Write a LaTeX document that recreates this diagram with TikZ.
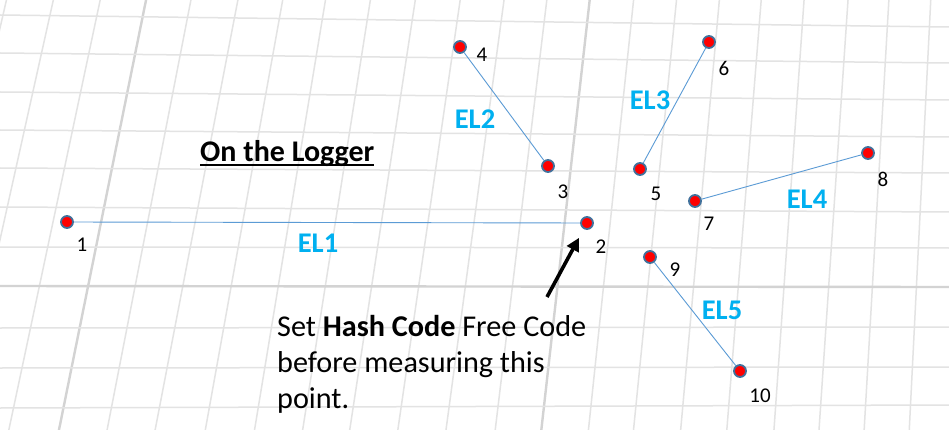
\documentclass[tikz,border=0pt]{standalone}
\usepackage{fontspec}
\setmainfont{Carlito}
\usetikzlibrary{arrows.meta,calc}
\definecolor{gridminor}{HTML}{E3E3E3}
\definecolor{gridmajor}{HTML}{D3D3D3}
\definecolor{elblue}{HTML}{00B0F0}
\definecolor{linkblue}{HTML}{5B9BD5}
\definecolor{dotborder}{HTML}{41719C}
\begin{document}
\begin{tikzpicture}[x=1pt,y=-1pt,
  minorline/.style={gridminor,line width=1.5pt},
  majorline/.style={gridmajor,line width=2.4pt},
  dot/.style={circle,fill=red,draw=dotborder,line width=1.8pt,minimum size=12pt,inner sep=0pt},
  num/.style={inner sep=0pt,font=\fontsize{21}{25}\selectfont},
  ellabel/.style={inner sep=0pt,text=elblue,font=\fontsize{28.5}{32}\selectfont\bfseries},
  link/.style={linkblue,line width=0.9pt},
  pointer/.style={black,line width=3.6pt,-{Triangle[length=13pt,width=13pt]},shorten >=10pt}]
\fill[white] (0,0) rectangle (949,430);
\useasboundingbox (0,0) rectangle (949,430);
\begin{scope}
\clip (0,0) rectangle (949,430);
% perspective grid: vertical lines (x at y=15 / x at y=415)
\foreach \a/\b in {3/-89,50/-39,97/12,188/110,235/158,280/208,323/257,368/305,413/352,458/400,502/448,545/497,632/590,675/635,718/682,760/728,803/775,847/820,888/865,930/910,972/957}
  \draw[minorline] ($(\a,15)!-0.1!(\b,415)$) -- ($(\a,15)!1.1!(\b,415)$);
\foreach \a/\b in {143/62,588/543}
  \draw[majorline] ($(\a,15)!-0.1!(\b,415)$) -- ($(\a,15)!1.1!(\b,415)$);
% horizontal lines (y at x=0 / y at x=949)
\foreach \a/\b in {15/27,53/63,92/100,130/137,168/173,207/212,247/248,328/327,368/367,408/405}
  \draw[minorline] ($(0,\a)!-0.05!(949,\b)$) -- ($(0,\a)!1.05!(949,\b)$);
\foreach \a/\b in {286/287}
  \draw[majorline] ($(0,\a)!-0.05!(949,\b)$) -- ($(0,\a)!1.05!(949,\b)$);
\end{scope}

% points
\node[dot] (p1) at (67,222) {};
\node[dot] (p2) at (587,223) {};
\node[dot] (p3) at (548,166) {};
\node[dot] (p4) at (460,47) {};
\node[dot] (p5) at (640,169) {};
\node[dot] (p6) at (709,42) {};
\node[dot] (p7) at (695,201) {};
\node[dot] (p8) at (868,153) {};
\node[dot] (p9) at (650,257) {};
\node[dot] (p10) at (740,371) {};

% connectors
\draw[link] (p1) -- (p2);
\draw[link] (p4) -- (p3);
\draw[link] (p6) -- (p5);
\draw[link] (p7) -- (p8);
\draw[link] (p9) -- (p10);

% numbers
\node[num] (n1) at (82,245) {1};
\node[num] (n2) at (601,247) {2};
\node[num] (n3) at (563,192) {3};
\node[num] (n4) at (482,55) {4};
\node[num] (n5) at (656,194) {5};
\node[num] (n6) at (724,68) {6};
\node[num] (n7) at (709,224) {7};
\node[num] (n8) at (883,179) {8};
\node[num] (n9) at (675,270) {9};
\node[num] (n10) at (760,396) {10};

% EL labels
\node[ellabel] (el1) at (318,243) {EL1};
\node[ellabel] (el2) at (475,119) {EL2};
\node[ellabel] (el3) at (650,100) {EL3};
\node[ellabel] (el4) at (807,199) {EL4};
\node[ellabel] (el5) at (722,310) {EL5};

% title
\node[inner sep=0pt,anchor=base west,font=\fontsize{30}{34}\selectfont\bfseries] (title) at (200,162) {On the Logger};
\draw[black,line width=2.4pt] ([yshift=-3pt]title.base west) -- ([yshift=-3pt]title.base east);

% note (anchor on the baseline of the last line)
\node[inner sep=0pt,anchor=base west,align=left,font=\fontsize{30.2}{36}\selectfont] (note) at (277,408)
  {Set \textbf{Hash Code} Free Code\\before measuring this\\point.};
\coordinate (tail) at (547,297);
\draw[pointer] (tail) -- (p2);
\end{tikzpicture}
\end{document}
